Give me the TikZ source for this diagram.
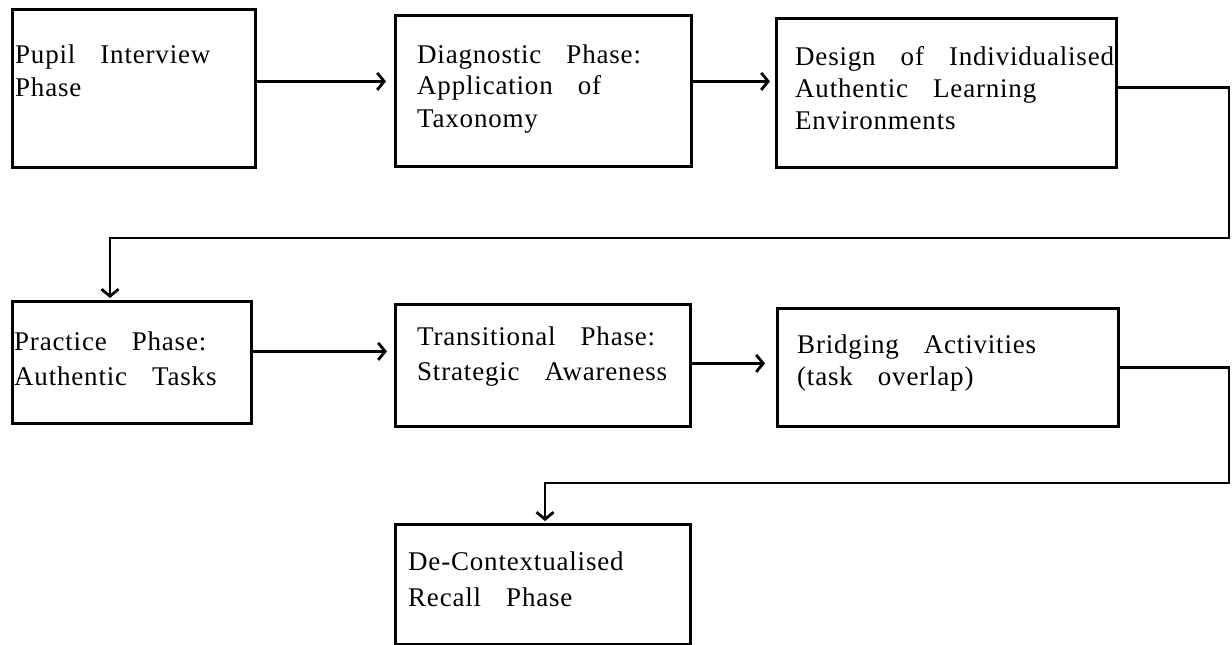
\documentclass[tikz,border=0pt]{standalone}
\usepackage{fontspec}
\setmainfont{Liberation Serif}[LetterSpace=3]
\usetikzlibrary{arrows.meta}
\newcommand\boxtext[2]{\parbox[t]{420pt}{\fontsize{27pt}{#1}\selectfont\spaceskip=25pt\relax\raggedright #2\par}}
\begin{document}
\begin{tikzpicture}[x=1pt,y=-1pt,
  box/.style={draw,line width=2.8pt,rectangle,anchor=north west,inner sep=0pt},
  txt/.style={anchor=base west,inner sep=0pt},
  arr/.style={line width=2.8pt,-{Straight Barb[length=7pt,width=17pt]}}]
\useasboundingbox (0,0) rectangle (1232,645);
% boxes
\node[box,minimum width=243pt,minimum height=158pt] (b1) at (11,8) {};
\node[box,minimum width=296pt,minimum height=151pt] (b2) at (394,14) {};
\node[box,minimum width=340pt,minimum height=149pt] (b3) at (775,17) {};
\node[box,minimum width=239pt,minimum height=122pt] (b4) at (11,300) {};
\node[box,minimum width=295pt,minimum height=122pt] (b5) at (394,303) {};
\node[box,minimum width=341pt,minimum height=118pt] (b6) at (776,307) {};
\node[box,minimum width=295pt,minimum height=120pt] (b7) at (394,523) {};
% texts
\node[txt] (t1) at (15,63) {\boxtext{33pt}{Pupil Interview\\Phase}};
\node[txt] (t2) at (417,63) {\boxtext{32pt}{Diagnostic Phase:\\Application of\\Taxonomy}};
\node[txt] (t3) at (795,65) {\boxtext{32pt}{Design of Individualised\\Authentic Learning\\Environments}};
\node[txt] (t4) at (14,350) {\boxtext{35pt}{Practice Phase:\\Authentic Tasks}};
\node[txt] (t5) at (417,345) {\boxtext{35pt}{Transitional Phase:\\Strategic Awareness}};
\node[txt] (t6) at (797,353) {\boxtext{32pt}{Bridging Activities\\(task overlap)}};
\node[txt] (t7) at (408,570) {\boxtext{36pt}{De-Contextualised\\Recall Phase}};
% connectors
\coordinate (c1) at (1229,238);
\coordinate (c2) at (1229,483);
\draw[arr,shorten >=8pt] ([yshift=7pt]b1.east) -- ([yshift=7pt]b1.east -| b2.west);
\draw[arr,shorten >=5pt] ([yshift=9.5pt]b2.east) -- ([yshift=9.5pt]b2.east -| b3.west);
\draw[arr,shorten >=2pt] ([yshift=5.5pt]b3.east) -| (c1) -| ([xshift=99pt]b4.north west);
\draw[arr,shorten >=7pt] ([yshift=11pt]b4.east) -- ([yshift=11pt]b4.east -| b5.west);
\draw[arr,shorten >=11pt] ([yshift=2pt]b5.east) -- ([yshift=2pt]b5.east -| b6.west);
\draw[arr,shorten >=2pt] (b6.east) -| (c2) -| ([xshift=151pt]b7.north west);
\end{tikzpicture}
\end{document}
